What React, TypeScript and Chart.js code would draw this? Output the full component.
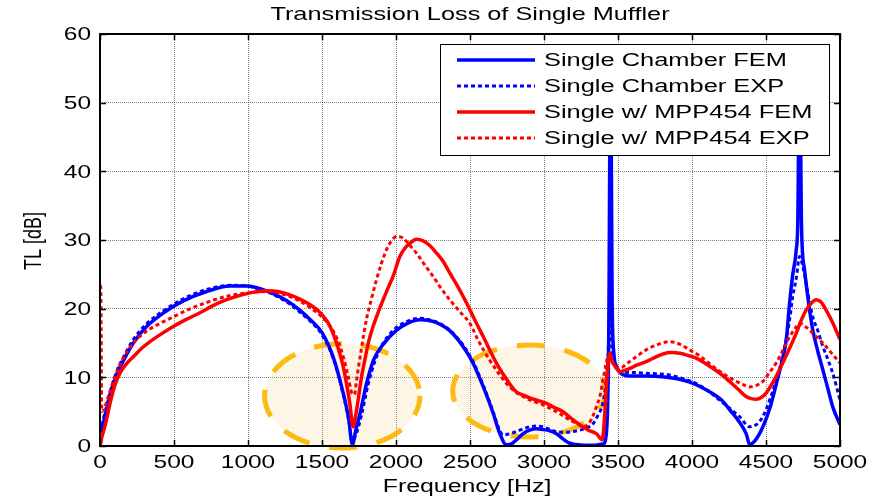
import React, { useEffect, useRef } from "react";
import { Chart, registerables } from "chart.js";

Chart.register(...registerables);

// ---------- text ----------
const chartTitle = "Transmission Loss of Single Muffler";
const xAxisTitle = "Frequency [Hz]";
const yAxisTitle = "TL [dB]";
const seriesLabels = [
  "Single Chamber FEM",
  "Single Chamber EXP",
  "Single w/ MPP454 FEM",
  "Single w/ MPP454 EXP",
];
const xTickValues = [0, 500, 1000, 1500, 2000, 2500, 3000, 3500, 4000, 4500, 5000];
const yTickValues = [0, 10, 20, 30, 40, 50, 60];

// ---------- data ----------
const freqChamberFem = [0, 15, 35, 70, 115, 160, 225, 315, 430, 560, 720, 880, 990, 1125, 1260, 1350, 1430, 1500, 1575, 1640, 1680, 1705, 1730, 1760, 1800, 1850, 1913, 2000, 2080, 2160, 2240, 2300, 2363, 2453, 2520, 2590, 2656, 2700, 2745, 2780, 2813, 2860, 2903, 2950, 2993, 3040, 3084, 3130, 3174, 3250, 3330, 3400, 3422, 3437, 3450, 3460, 3472, 3490, 3533, 3600, 3700, 3800, 3900, 3984, 4060, 4141, 4200, 4254, 4320, 4366, 4390, 4430, 4479, 4530, 4569, 4610, 4637, 4660, 4681, 4704, 4715, 4727, 4740, 4760, 4790, 4816, 4850, 4884, 4920, 4951, 5000];
const tlChamberFem = [0, 2.5, 4.5, 7.5, 10.5, 12.5, 15, 17.4, 19.4, 21.1, 22.5, 23.3, 23.3, 22.6, 21.2, 19.8, 18.2, 16.5, 13.0, 8.0, 4.0, 0.2, 2.5, 5.0, 9.0, 12.6, 14.8, 16.8, 17.9, 18.4, 18.2, 17.7, 16.8, 14.5, 12.1, 8.6, 4.8, 1.9, 0.2, 0.3, 0.9, 1.8, 2.3, 2.5, 2.4, 2.2, 1.8, 1.0, 0.4, 0.15, 0.1, 0.3, 2.0, 15, 58, 22, 13.5, 11.6, 10.4, 10.2, 10.2, 10.1, 9.8, 9.3, 8.6, 7.6, 6.7, 5.3, 3.5, 1.8, 0.2, 0.9, 2.8, 5.8, 9.0, 12.5, 15.5, 21.0, 25.0, 28.5, 33, 58, 32, 25.7, 20.5, 16.9, 13.8, 11.1, 8.2, 5.7, 3.1];

const freqChamberExp = [0, 15, 35, 70, 115, 160, 225, 315, 430, 560, 720, 880, 990, 1125, 1260, 1350, 1430, 1500, 1575, 1640, 1680, 1705, 1735, 1770, 1810, 1860, 1920, 2000, 2080, 2160, 2240, 2300, 2363, 2453, 2520, 2590, 2656, 2700, 2723, 2770, 2813, 2860, 2903, 2950, 2993, 3040, 3084, 3140, 3196, 3240, 3286, 3330, 3365, 3398, 3415, 3432, 3446, 3460, 3480, 3511, 3600, 3691, 3780, 3849, 3940, 4029, 4110, 4186, 4260, 4321, 4389, 4440, 4479, 4530, 4569, 4610, 4637, 4660, 4681, 4705, 4727, 4750, 4771, 4794, 4816, 4850, 4884, 4920, 4951, 5000];
const tlChamberExp = [0, 3, 5, 8, 11, 13, 15.5, 17.8, 19.7, 21.4, 22.8, 23.4, 23.3, 22.5, 21.0, 19.5, 18.0, 16.2, 12.8, 7.8, 3.8, 0.8, 2.0, 4.8, 8.8, 12.5, 15.2, 17.2, 18.2, 18.6, 18.3, 17.8, 16.9, 14.7, 12.3, 8.8, 5.0, 2.3, 1.6, 1.8, 2.1, 2.5, 2.8, 2.9, 2.8, 2.4, 2.1, 2.0, 2.1, 2.3, 2.6, 3.2, 4.5, 6.2, 8.6, 13, 21, 13.5, 11.8, 10.8, 10.7, 10.6, 10.5, 10.35, 9.8, 9.1, 8.0, 6.7, 5.4, 4.3, 2.8, 3.2, 4.3, 7.0, 9.6, 12.8, 15.5, 18.5, 21.8, 24.5, 27.6, 26, 23.7, 21, 18.8, 16.8, 14.5, 12.5, 10.6, 6.7];

const freqMppFem = [0, 15, 35, 68, 100, 135, 180, 225, 280, 338, 420, 495, 580, 675, 760, 855, 940, 1013, 1070, 1125, 1200, 1283, 1350, 1418, 1470, 1508, 1545, 1575, 1610, 1643, 1668, 1688, 1710, 1728, 1744, 1765, 1789, 1815, 1845, 1880, 1913, 1950, 1980, 2026, 2060, 2093, 2138, 2180, 2228, 2270, 2318, 2363, 2410, 2453, 2498, 2543, 2590, 2633, 2680, 2723, 2770, 2813, 2860, 2903, 2960, 3016, 3070, 3128, 3190, 3241, 3300, 3354, 3393, 3410, 3421, 3432, 3444, 3455, 3466, 3490, 3511, 3545, 3579, 3630, 3691, 3750, 3804, 3860, 3917, 3970, 4029, 4085, 4141, 4200, 4254, 4310, 4366, 4400, 4434, 4470, 4501, 4545, 4591, 4650, 4704, 4740, 4771, 4805, 4839, 4870, 4906, 4950, 5000];
const tlMppFem = [0, 1.5, 3.0, 6.2, 8.8, 10.6, 12.0, 13.0, 14.2, 15.2, 16.4, 17.4, 18.4, 19.4, 20.4, 21.3, 21.9, 22.3, 22.5, 22.6, 22.5, 22.0, 21.4, 20.6, 19.8, 18.9, 17.8, 16.4, 14.2, 11.6, 8.8, 6.2, 2.8, 4.5, 6.7, 9.8, 12.5, 15.2, 17.4, 19.5, 21.3, 23.2, 24.7, 27.6, 28.8, 29.5, 30.1, 29.9, 29.2, 28.2, 26.9, 25.2, 23.5, 21.8, 19.9, 17.9, 15.9, 14.0, 12.0, 10.5, 9.0, 7.9, 7.4, 7.0, 6.6, 6.2, 5.6, 5.0, 3.9, 3.1, 2.3, 1.8, 0.9, 4.5, 8.6, 11.5, 13.5, 12.7, 12.1, 11.3, 10.8, 11.0, 11.3, 11.8, 12.3, 12.9, 13.4, 13.6, 13.5, 13.2, 12.8, 12.1, 11.3, 10.4, 9.4, 8.3, 7.2, 6.9, 6.8, 7.1, 7.7, 9.2, 11.1, 13.8, 16.4, 18.4, 19.8, 20.8, 21.3, 21.0, 19.8, 18.0, 15.5];

const freqMppExp = [0, 5, 12, 30, 60, 100, 150, 225, 300, 383, 495, 600, 720, 855, 1000, 1125, 1250, 1350, 1430, 1500, 1560, 1610, 1650, 1680, 1700, 1720, 1733, 1765, 1800, 1835, 1868, 1900, 1936, 1970, 2003, 2048, 2090, 2138, 2190, 2251, 2300, 2363, 2430, 2498, 2560, 2633, 2690, 2746, 2800, 2858, 2915, 2971, 3030, 3084, 3130, 3174, 3220, 3264, 3310, 3354, 3380, 3398, 3415, 3432, 3445, 3460, 3480, 3511, 3560, 3624, 3690, 3759, 3800, 3849, 3920, 3984, 4060, 4141, 4220, 4299, 4350, 4389, 4430, 4479, 4520, 4569, 4615, 4659, 4700, 4726, 4760, 4794, 4840, 4884, 4940, 5000];
const tlMppExp = [23.3, 23.3, 5, 5.5, 7.5, 10.0, 12.5, 15.0, 16.5, 17.6, 18.8, 19.9, 20.9, 21.8, 22.3, 22.5, 22.0, 21.1, 20.0, 18.8, 17.3, 15.2, 12.5, 9.8, 7.8, 7.5, 9.5, 14.0, 18.4, 21.5, 24.2, 26.5, 28.6, 29.9, 30.5, 30.3, 29.3, 28.1, 26.5, 24.7, 23.1, 21.3, 19.6, 17.9, 15.2, 12.5, 10.7, 9.1, 8.0, 7.2, 6.6, 6.2, 5.6, 5.0, 4.4, 3.8, 3.3, 2.8, 3.5, 5.7, 7.5, 9.6, 11.5, 13.0, 13.2, 12.3, 11.6, 11.3, 12.0, 13.0, 14.0, 14.7, 15.0, 15.2, 14.8, 14.0, 13.0, 11.6, 10.4, 9.4, 8.9, 8.6, 8.8, 9.4, 10.6, 12.1, 14.0, 15.9, 17.2, 17.9, 17.5, 16.9, 15.9, 15.0, 13.6, 12.1];

// highlighted regions (center freq, center TL, half-width Hz, half-height dB)
const highlightRegions = [
  { f: 1637, tl: 7.3, df: 525, dtl: 7.6 },
  { f: 2899, tl: 8.0, df: 516, dtl: 6.7 },
];

// ---------- styling ----------
const W = 879;
const H = 499;
const FONT = '"Liberation Sans", Arial, Helvetica, sans-serif';
const STRETCH = 1.36;
const BLUE = "#0000FF";
const RED = "#FF0000";

const toPoints = (xs: number[], ys: number[]) => xs.map((x, i) => ({ x, y: ys[i] }));

function drawText(
  ctx: CanvasRenderingContext2D,
  text: string,
  x: number,
  y: number,
  align: CanvasTextAlign,
  size: number,
  rotate = false
) {
  ctx.save();
  ctx.font = `${size}px ${FONT}`;
  ctx.fillStyle = "#000";
  ctx.textBaseline = "middle";
  ctx.textAlign = align;
  ctx.translate(x, y);
  ctx.scale(STRETCH, 1);
  if (rotate) ctx.rotate(-Math.PI / 2);
  ctx.fillText(text, 0, 0);
  ctx.restore();
}

const matlabPlugin = {
  id: "matlabDecor",
  beforeDatasetsDraw(chart: any) {
    const { ctx, scales } = chart;
    const xs = scales.x;
    const ys = scales.y;
    ctx.save();
    for (const r of highlightRegions) {
      const cx = xs.getPixelForValue(r.f);
      const cy = ys.getPixelForValue(r.tl);
      const rx = Math.abs(xs.getPixelForValue(r.f + r.df) - cx);
      const ry = Math.abs(ys.getPixelForValue(r.tl + r.dtl) - cy);
      ctx.beginPath();
      ctx.ellipse(cx, cy, rx, ry, 0, 0, Math.PI * 2);
      ctx.fillStyle = "rgba(245, 205, 130, 0.2)";
      ctx.fill();
      ctx.setLineDash([28, 20]);
      ctx.lineDashOffset = 8;
      ctx.lineWidth = 5;
      ctx.strokeStyle = "#FDBA12";
      ctx.stroke();
    }
    ctx.restore();
  },
  afterDraw(chart: any) {
    const { ctx, scales, chartArea } = chart;
    const xs = scales.x;
    const ys = scales.y;
    const { left, right, top, bottom } = chartArea;

    // tick marks (inward) on all four sides
    ctx.save();
    ctx.strokeStyle = "#000";
    ctx.lineWidth = 1.5;
    ctx.beginPath();
    for (const v of xTickValues) {
      const px = Math.round(xs.getPixelForValue(v)) + 0.5;
      ctx.moveTo(px, bottom);
      ctx.lineTo(px, bottom - 6);
      ctx.moveTo(px, top);
      ctx.lineTo(px, top + 6);
    }
    for (const v of yTickValues) {
      const py = Math.round(ys.getPixelForValue(v)) + 0.5;
      ctx.moveTo(left, py);
      ctx.lineTo(left + 6, py);
      ctx.moveTo(right, py);
      ctx.lineTo(right - 6, py);
    }
    ctx.stroke();
    ctx.restore();

    // legend
    const lgX = 440, lgY = 44, lgW = 389, lgH = 111;
    ctx.save();
    ctx.fillStyle = "#fff";
    ctx.fillRect(lgX, lgY, lgW, lgH);
    ctx.strokeStyle = "#000";
    ctx.lineWidth = 1;
    ctx.strokeRect(lgX + 0.5, lgY + 0.5, lgW, lgH);
    ctx.restore();
    chart.data.datasets.forEach((ds: any, i: number) => {
      const rowY = 60 + i * 26;
      ctx.save();
      ctx.strokeStyle = ds.borderColor;
      ctx.lineWidth = ds.borderWidth;
      ctx.setLineDash(ds.borderDash || []);
      ctx.beginPath();
      ctx.moveTo(457, rowY);
      ctx.lineTo(535, rowY);
      ctx.stroke();
      ctx.restore();
      drawText(ctx, ds.label, 544, rowY + 1, "left", 18.7);
    });

    // axes box
    ctx.save();
    ctx.strokeStyle = "#000";
    ctx.lineWidth = 2;
    ctx.strokeRect(left, top, right - left, bottom - top);
    ctx.restore();

    // tick labels
    for (const v of xTickValues) {
      drawText(ctx, String(v), xs.getPixelForValue(v), 463, "center", 18);
    }
    for (const v of yTickValues) {
      drawText(ctx, String(v), 91, ys.getPixelForValue(v) + 1.5, "right", 18);
    }

    // titles
    drawText(ctx, chartTitle, (left + right) / 2, 15, "center", 18.6);
    drawText(ctx, xAxisTitle, (left + right) / 2 - 3, 487, "center", 18.3);
    drawText(ctx, yAxisTitle, 34, (top + bottom) / 2 + 1, "center", 18, true);
  },
};

export default function App() {
  const canvasRef = useRef<HTMLCanvasElement | null>(null);

  useEffect(() => {
    const canvas = canvasRef.current;
    if (!canvas) return;
    const common = {
      pointRadius: 0,
      pointHoverRadius: 0,
      fill: false,
      cubicInterpolationMode: "monotone" as const,
    };
    const chart = new Chart(canvas, {
      type: "line",
      data: {
        datasets: [
          { ...common, label: seriesLabels[0], data: toPoints(freqChamberFem, tlChamberFem), borderColor: BLUE, borderWidth: 3.5, order: 4 },
          { ...common, label: seriesLabels[1], data: toPoints(freqChamberExp, tlChamberExp), borderColor: BLUE, borderWidth: 3, borderDash: [4, 3], order: 3 },
          { ...common, label: seriesLabels[2], data: toPoints(freqMppFem, tlMppFem), borderColor: RED, borderWidth: 3.5, order: 1 },
          { ...common, label: seriesLabels[3], data: toPoints(freqMppExp, tlMppExp), borderColor: RED, borderWidth: 3, borderDash: [4, 3], order: 2 },
        ] as any,
      },
      options: {
        animation: false,
        responsive: false,
        maintainAspectRatio: false,
        devicePixelRatio: 1,
        layout: { padding: { top: 34, right: 39, left: 0, bottom: 0 } },
        plugins: {
          legend: { display: false },
          title: { display: false },
          tooltip: { enabled: false },
        },
        scales: {
          x: {
            type: "linear",
            min: 0,
            max: 5000,
            ticks: { display: false, stepSize: 500 },
            grid: { color: "rgba(0,0,0,0.5)", lineWidth: 1, drawTicks: false },
            border: { display: false, dash: [1, 1] },
            afterFit: (s: any) => { s.height = 53; },
          },
          y: {
            type: "linear",
            min: 0,
            max: 60,
            ticks: { display: false, stepSize: 10 },
            grid: { color: "rgba(0,0,0,0.5)", lineWidth: 1, drawTicks: false },
            border: { display: false, dash: [1, 1] },
            afterFit: (s: any) => { s.width = 100; },
          },
        },
      } as any,
      plugins: [matlabPlugin],
    });
    return () => chart.destroy();
  }, []);

  return (
    <div style={{ position: "fixed", left: 0, top: 0, width: W, height: H, background: "#fff" }}>
      <canvas ref={canvasRef} width={W} height={H} style={{ display: "block", width: W, height: H }} />
    </div>
  );
}
